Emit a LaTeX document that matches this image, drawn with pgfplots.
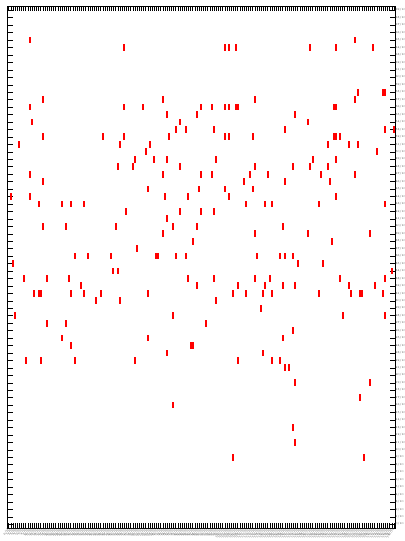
\documentclass[border=0pt]{standalone}
\usepackage{fontspec}
\setmainfont{Latin Modern Roman}
\usepackage{pgfplots}
\pgfplotsset{compat=1.18}
\pgfdeclareplotmark{cell}{%
  \pgfpathrectangle{\pgfpoint{-1bp}{-3.4bp}}{\pgfpoint{2bp}{6.8bp}}%
  \pgfusepath{fill}}
\begin{document}
\begin{tikzpicture}
\begin{axis}[
  scale only axis,
  width=387.5bp, height=521.5bp,
  xmin=-0.5, xmax=180.5, ymin=-0.5, ymax=69.5,
  xtick={0,...,180}, ytick={0,...,69},
  tick align=inside,
  major tick length=5bp,
  tick style={black, line width=0.4bp},
  axis line style={black, line width=0.8bp},
  yticklabel pos=right,
  xticklabel style={rotate=58, anchor=east, font=\fontsize{2.8}{3}\selectfont, inner sep=0.3bp, text=black!75},
  yticklabel style={font=\fontsize{2.9}{3.4}\selectfont, inner sep=0.5bp, text=black!75},
  xticklabel={\pgfmathtruncatemacro\n{\tick}\n/10},
  yticklabel={\pgfmathtruncatemacro\n{\tick}\n/10},
  clip=false,
]
\addplot[only marks, mark=cell, mark options={fill=red, draw=none}, draw=none] coordinates {
(10,65) (162,65)
(54,64) (101,64) (103,64) (106,64) (141,64) (153,64) (170,64)
(163,58) (175,58) (176,58)
(16,57) (72,57) (115,57) (162,57)
(10,56) (54,56) (63,56) (90,56) (95,56) (101,56) (103,56) (106,56) (107,56) (152,56) (153,56)
(74,55) (88,55) (134,55)
(11,54) (80,54) (140,54)
(78,53) (83,53) (96,53) (129,53) (176,53) (180,53)
(16,52) (44,52) (54,52) (75,52) (101,52) (103,52) (114,52) (152,52) (153,52) (155,52)
(5,51) (52,51) (66,51) (149,51) (159,51) (163,51)
(64,50) (172,50)
(59,49) (68,49) (74,49) (97,49) (142,49) (153,49)
(51,48) (58,48) (80,48) (115,48) (133,48) (141,48) (149,48)
(10,47) (72,47) (90,47) (95,47) (113,47) (121,47) (146,47) (162,47)
(16,46) (110,46) (129,46) (150,46)
(65,45) (89,45) (101,45) (114,45)
(1,44) (10,44) (73,44) (84,44) (103,44) (153,44)
(14,43) (25,43) (29,43) (35,43) (111,43) (120,43) (123,43) (145,43) (176,43)
(55,42) (80,42) (90,42) (96,42)
(74,41)
(16,40) (27,40) (50,40) (77,40) (88,40) (128,40)
(72,39) (115,39) (140,39) (169,39)
(86,38) (151,38)
(60,37)
(31,36) (37,36) (48,36) (69,36) (70,36) (78,36) (83,36) (116,36) (127,36) (129,36) (133,36)
(2,35) (135,35) (147,35)
(49,34) (51,34) (179,34)
(7,33) (18,33) (28,33) (84,33) (96,33) (115,33) (122,33) (155,33) (176,33)
(34,32) (88,32) (107,32) (120,32) (128,32) (134,32) (159,32) (171,32)
(12,31) (14,31) (15,31) (29,31) (35,31) (43,31) (65,31) (105,31) (111,31) (119,31) (123,31) (145,31) (160,31) (164,31) (165,31) (175,31)
(41,30) (52,30) (97,30)
(118,29)
(3,28) (77,28) (156,28) (176,28)
(18,27) (27,27) (92,27)
(133,26)
(25,25) (65,25) (128,25)
(29,24) (85,24) (86,24)
(74,23) (119,23)
(8,22) (15,22) (31,22) (59,22) (107,22) (123,22) (127,22)
(129,21) (131,21)
(134,19) (169,19)
(164,17)
(77,16)
(133,13)
(134,11)
(105,9) (166,9)
};
\end{axis}
\pgfresetboundingbox
\path (current axis.south west) ++(-7.5bp,-13bp) coordinate (bl);
\path (current axis.north east) ++(10bp,6.5bp) coordinate (tr);
\useasboundingbox (bl) rectangle (tr);
\end{tikzpicture}
\end{document}
